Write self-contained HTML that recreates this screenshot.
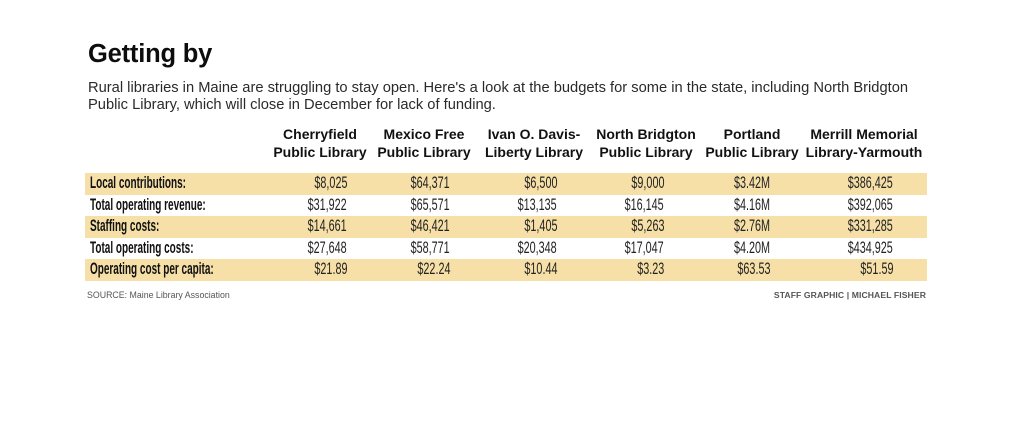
<!DOCTYPE html>
<html>
<head>
<meta charset="utf-8">
<style>
  html, body { margin:0; padding:0; }
  body { width:1024px; height:433px; background:#fff; position:relative; overflow:hidden;
         font-family:"Liberation Sans", Arial, sans-serif; color:#111; }
  .abs { position:absolute; white-space:nowrap; }
  .title { left:88px; top:39px; font-size:25.5px; line-height:30px; font-weight:700; color:#0d0d0d; letter-spacing:-0.2px; }
  .sub { left:88px; top:80px; font-size:14.7px; line-height:17px; color:#2a2a2a; }
  .hdr { width:140px; text-align:center; top:125px; font-size:14px; line-height:18px; font-weight:700; color:#111; }
  .band { left:85px; width:842px; height:21.5px; background:#F6E0A8; }
  .lab { left:90px; font-size:16.5px; line-height:21.5px; font-weight:700; color:#111;
         transform:scaleX(0.605); transform-origin:0 50%; }
  .val { font-size:16.5px; line-height:21.5px; color:#222;
         transform:scaleX(0.655); transform-origin:100% 50%; }
  .c1 { right:677px; } .c2 { right:574px; } .c3 { right:467px; }
  .c4 { right:360px; } .c5 { right:254px; } .c6 { right:131px; }
  .src { left:87px; top:288.5px; font-size:8.8px; line-height:12px; color:#555; }
  .cred { right:98px; top:288.5px; font-size:8.6px; line-height:12px; font-weight:700; color:#555; letter-spacing:0.1px; }
</style>
</head>
<body>
  <div class="abs title">Getting by</div>
  <div class="abs sub">Rural libraries in Maine are struggling to stay open. Here's a look at the budgets for some in the state, including North Bridgton<br>Public Library, which will close in December for lack of funding.</div>

  <div class="abs hdr" style="left:250px;">Cherryfield<br>Public Library</div>
  <div class="abs hdr" style="left:354px;">Mexico Free<br>Public Library</div>
  <div class="abs hdr" style="left:464px;">Ivan O. Davis-<br>Liberty Library</div>
  <div class="abs hdr" style="left:576px;">North Bridgton<br>Public Library</div>
  <div class="abs hdr" style="left:682px;">Portland<br>Public Library</div>
  <div class="abs hdr" style="left:794px;">Merrill Memorial<br>Library-Yarmouth</div>

  <div class="abs band" style="top:173px;"></div>
  <div class="abs band" style="top:216px;"></div>
  <div class="abs band" style="top:259px;"></div>

  <!-- Row 1 -->
  <div class="abs lab" style="top:173px;">Local contributions:</div>
  <div class="abs val c1" style="top:173px;">$8,025</div>
  <div class="abs val c2" style="top:173px;">$64,371</div>
  <div class="abs val c3" style="top:173px;">$6,500</div>
  <div class="abs val c4" style="top:173px;">$9,000</div>
  <div class="abs val c5" style="top:173px;">$3.42M</div>
  <div class="abs val c6" style="top:173px;">$386,425</div>

  <!-- Row 2 -->
  <div class="abs lab" style="top:194.5px;">Total operating revenue:</div>
  <div class="abs val c1" style="top:194.5px;">$31,922</div>
  <div class="abs val c2" style="top:194.5px;">$65,571</div>
  <div class="abs val c3" style="top:194.5px;">$13,135</div>
  <div class="abs val c4" style="top:194.5px;">$16,145</div>
  <div class="abs val c5" style="top:194.5px;">$4.16M</div>
  <div class="abs val c6" style="top:194.5px;">$392,065</div>

  <!-- Row 3 -->
  <div class="abs lab" style="top:216px;">Staffing costs:</div>
  <div class="abs val c1" style="top:216px;">$14,661</div>
  <div class="abs val c2" style="top:216px;">$46,421</div>
  <div class="abs val c3" style="top:216px;">$1,405</div>
  <div class="abs val c4" style="top:216px;">$5,263</div>
  <div class="abs val c5" style="top:216px;">$2.76M</div>
  <div class="abs val c6" style="top:216px;">$331,285</div>

  <!-- Row 4 -->
  <div class="abs lab" style="top:237.5px;">Total operating costs:</div>
  <div class="abs val c1" style="top:237.5px;">$27,648</div>
  <div class="abs val c2" style="top:237.5px;">$58,771</div>
  <div class="abs val c3" style="top:237.5px;">$20,348</div>
  <div class="abs val c4" style="top:237.5px;">$17,047</div>
  <div class="abs val c5" style="top:237.5px;">$4.20M</div>
  <div class="abs val c6" style="top:237.5px;">$434,925</div>

  <!-- Row 5 -->
  <div class="abs lab" style="top:259px;">Operating cost per capita:</div>
  <div class="abs val c1" style="top:259px;">$21.89</div>
  <div class="abs val c2" style="top:259px;">$22.24</div>
  <div class="abs val c3" style="top:259px;">$10.44</div>
  <div class="abs val c4" style="top:259px;">$3.23</div>
  <div class="abs val c5" style="top:259px;">$63.53</div>
  <div class="abs val c6" style="top:259px;">$51.59</div>

  <div class="abs src">SOURCE: Maine Library Association</div>
  <div class="abs cred">STAFF GRAPHIC | MICHAEL FISHER</div>
</body>
</html>
